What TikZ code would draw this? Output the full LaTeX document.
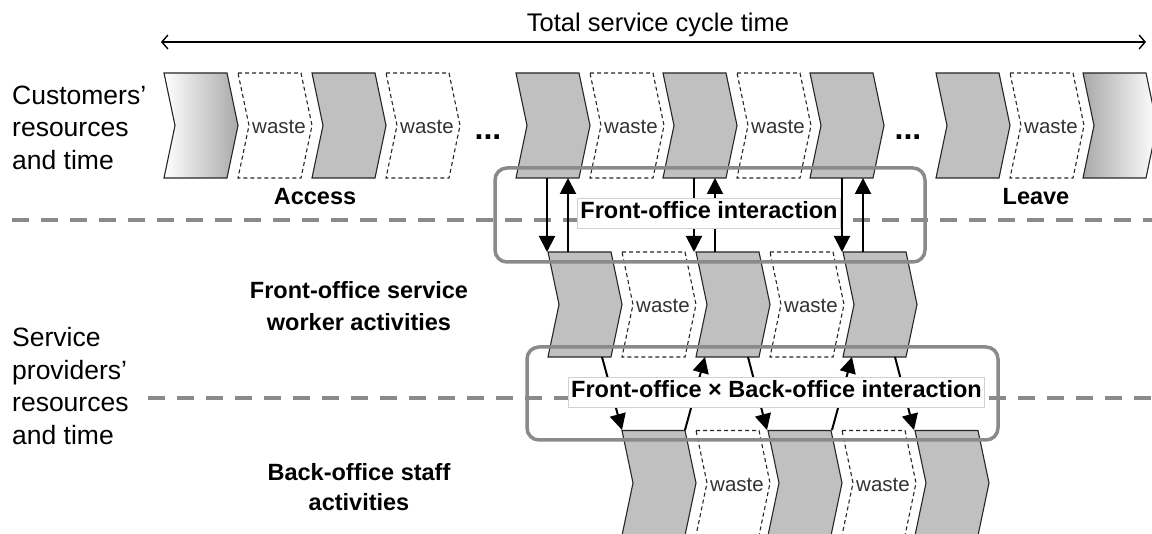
\documentclass[tikz,border=0pt]{standalone}
\usepackage{fontspec}
\setmainfont{Liberation Sans}
\usetikzlibrary{arrows.meta}
\definecolor{chevgray}{HTML}{C0C0C0}
\definecolor{sepgray}{HTML}{8A8A8A}
\definecolor{wastetext}{HTML}{333333}
\newcommand{\chevdraw}[3]{\path[#1] (#2,#3-52.5) -- (#2+63,#3-52.5) -- (#2+74,#3) -- (#2+63,#3+52.5) -- (#2,#3+52.5) -- (#2+11,#3) -- cycle;}
\begin{document}
\begin{tikzpicture}[x=1pt,y=-1pt,
  chevbox/.style={draw=black!85,line width=1.1pt,fill=chevgray,line join=miter},
  wastebox/.style={draw=black!85,line width=1.1pt,dash pattern=on 4pt off 3pt},
  wastelabel/.style={text=wastetext,font=\fontsize{20.5}{22}\selectfont,inner sep=0pt},
  sepline/.style={draw=sepgray,line width=4.5pt,dash pattern=on 17pt off 12pt},
  interbox/.style={draw=sepgray,line width=3.5pt,rounded corners=12pt},
  interlabel/.style={fill=white,draw=black!18,line width=0.8pt,inner xsep=3pt,inner ysep=4pt,text height=17pt,text depth=5pt,font=\bfseries\fontsize{23.5}{28}\selectfont},
  flow/.style={line width=2pt,-{Triangle[length=16pt,width=16pt]}},
  boldlab/.style={font=\bfseries\fontsize{23.5}{32}\selectfont,align=center,inner sep=0pt},
  leftlab/.style={font=\fontsize{26.5}{32.6}\selectfont,align=left,anchor=west,inner sep=0pt},
  dots/.style={font=\bfseries\fontsize{32}{32}\selectfont,inner sep=0pt}
]
\useasboundingbox (0,0) rectangle (1152,534);

% separators
\draw[sepline] (12,220) -- (1152,220);
\draw[sepline] (148,398) -- (1152,398);

% title arrow
\node (title) at (658,25) {\fontsize{25.5}{30}\selectfont Total service cycle time};
\coordinate (tl) at (161,42);
\coordinate (tr) at (1146,42);
\draw[line width=1.4pt,{Straight Barb[length=6pt,width=14pt]}-{Straight Barb[length=6pt,width=14pt]}] (tl) -- (tr);

% top row (customers)
\chevdraw{draw=black!85,line width=1.1pt,left color=white,right color=chevgray!88!black}{164}{125.5}
\foreach \x in {312,516,663,810,936} { \chevdraw{chevbox}{\x}{125.5} }
\chevdraw{draw=black!85,line width=1.1pt,left color=chevgray!88!black,right color=white}{1083}{125.5}
\foreach \x in {238,386,590,737,1010} {
  \chevdraw{wastebox}{\x}{125.5}
  \node[wastelabel] at (\x+41,127) {waste};
}
\node[dots] (dotsA) at (488,137) {...};
\node[dots] (dotsB) at (908,137) {...};

% middle row (front office)
\foreach \x in {548,696,843} { \chevdraw{chevbox}{\x}{304.5} }
\foreach \x in {622,770} {
  \chevdraw{wastebox}{\x}{304.5}
  \node[wastelabel] at (\x+41,306) {waste};
}

% bottom row (back office)
\foreach \x in {622,768,915} { \chevdraw{chevbox}{\x}{483} }
\foreach \x in {696,842} {
  \chevdraw{wastebox}{\x}{483}
  \node[wastelabel] at (\x+41,485) {waste};
}

% interaction boxes
\draw[interbox] (495,168) rectangle (925,262);
\draw[interbox] (527,347) rectangle (998,440);

% arrow end points
\coordinate (a1s) at (547,178); \coordinate (a1e) at (547,252);
\coordinate (b1s) at (568,252); \coordinate (b1e) at (568,178);
\coordinate (a2s) at (694,178); \coordinate (a2e) at (694,252);
\coordinate (b2s) at (715,252); \coordinate (b2e) at (715,178);
\coordinate (a3s) at (842,178); \coordinate (a3e) at (842,252);
\coordinate (b3s) at (863,252); \coordinate (b3e) at (863,178);
\draw[flow] (a1s) -- (a1e);
\draw[flow] (b1s) -- (b1e);
\draw[flow] (a2s) -- (a2e);
\draw[flow] (b2s) -- (b2e);
\draw[flow] (a3s) -- (a3e);
\draw[flow] (b3s) -- (b3e);

\coordinate (c1s) at (602,357); \coordinate (c1e) at (622,430);
\coordinate (d1s) at (685,430); \coordinate (d1e) at (705,357);
\coordinate (c2s) at (748,357); \coordinate (c2e) at (767,430);
\coordinate (d2s) at (832,430); \coordinate (d2e) at (852,357);
\coordinate (c3s) at (895,357); \coordinate (c3e) at (914,430);
\draw[flow] (c1s) -- (c1e);
\draw[flow] (d1s) -- (d1e);
\draw[flow] (c2s) -- (c2e);
\draw[flow] (d2s) -- (d2e);
\draw[flow] (c3s) -- (c3e);

% interaction labels
\node[interlabel] (fo) at (709,213) {Front-office interaction};
\node[interlabel] (fb) at (776.5,392) {Front-office × Back-office interaction};

% text labels
\node[boldlab] (access) at (315,197) {Access};
\node[boldlab] (leave) at (1036,197) {Leave};
\node[boldlab] (fsw) at (359,306) {Front-office service\\worker activities};
\node[boldlab,font=\bfseries\fontsize{23.5}{30}\selectfont] (bos) at (359,487) {Back-office staff\\activities};
\node[leftlab] (cust) at (12,127.5) {Customers'\\resources\\and time};
\node[leftlab] (prov) at (12,386) {Service\\providers'\\resources\\and time};
\end{tikzpicture}
\end{document}
